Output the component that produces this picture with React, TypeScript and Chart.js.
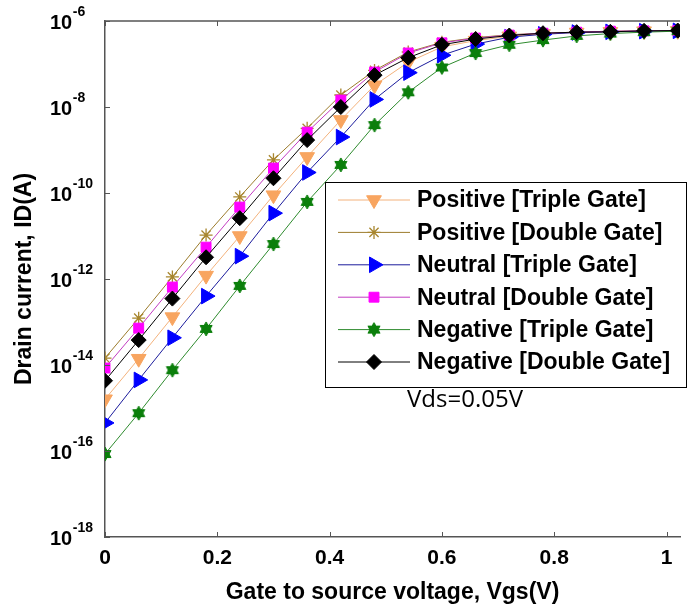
import React, { useEffect, useRef } from 'react';
import { Chart, registerables } from 'chart.js';
import { drawPoint } from 'chart.js/helpers';

Chart.register(...registerables);

// ---------- data ----------
const vgs = [0, 0.06, 0.12, 0.18, 0.24, 0.3, 0.36, 0.42, 0.48, 0.54, 0.6, 0.66, 0.72, 0.78, 0.84, 0.9, 0.96, 1.02];

const positiveTriple = [1.6e-15, 1.4e-14, 1.3e-13, 1.2e-12, 1.0e-11, 8.9e-11, 6.9e-10, 5.0e-9, 3.2e-8, 1.1e-7, 2.5e-7, 3.5e-7, 4.4e-7, 5.0e-7, 5.4e-7, 5.6e-7, 5.8e-7, 5.9e-7];
const positiveDouble = [1.45e-14, 1.23e-13, 1.12e-12, 1.05e-11, 8.1e-11, 5.9e-10, 3.2e-9, 1.9e-8, 7.1e-8, 1.9e-7, 3.2e-7, 4.1e-7, 4.8e-7, 5.2e-7, 5.5e-7, 5.8e-7, 5.9e-7, 6.0e-7];
const neutralTriple = [4.5e-16, 4.5e-15, 4.3e-14, 4.0e-13, 3.4e-12, 3.4e-11, 3.0e-10, 2.0e-9, 1.5e-8, 6.3e-8, 1.6e-7, 2.9e-7, 4.2e-7, 4.9e-7, 5.4e-7, 5.6e-7, 5.8e-7, 5.9e-7];
const neutralDouble = [8.5e-15, 7.2e-14, 6.5e-13, 5.5e-12, 4.7e-11, 3.8e-10, 2.6e-9, 1.45e-8, 6.5e-8, 1.8e-7, 3.1e-7, 4.0e-7, 4.7e-7, 5.2e-7, 5.5e-7, 5.8e-7, 5.9e-7, 6.0e-7];
const negativeTriple = [8.5e-17, 7.6e-16, 7.6e-15, 6.9e-14, 6.9e-13, 6.5e-12, 6.2e-11, 4.5e-10, 3.8e-9, 2.2e-8, 8.3e-8, 1.8e-7, 2.8e-7, 3.6e-7, 4.5e-7, 5.1e-7, 5.5e-7, 5.8e-7];
const negativeDouble = [4.3e-15, 3.8e-14, 3.5e-13, 3.2e-12, 2.6e-11, 2.2e-10, 1.7e-9, 1.0e-8, 5.5e-8, 1.4e-7, 2.8e-7, 3.8e-7, 4.6e-7, 5.2e-7, 5.5e-7, 5.6e-7, 5.9e-7, 6.0e-7];

const seriesLabels = [
  'Positive [Triple Gate]',
  'Positive [Double Gate]',
  'Neutral [Triple Gate]',
  'Neutral [Double Gate]',
  'Negative [Triple Gate]',
  'Negative [Double Gate]',
];

const xTickValues = [0, 0.2, 0.4, 0.6, 0.8, 1];
const xTickLabels = ['0', '0.2', '0.4', '0.6', '0.8', '1'];
const yTickExponents = [-6, -8, -10, -12, -14, -16, -18];

const xTitle = 'Gate to source voltage, Vgs(V)';
const yTitle = 'Drain current, ID(A)';
const annotationText = 'Vds=0.05V';

// ---------- styling ----------
const FONT = "'Liberation Sans', Arial, sans-serif";
const AXIS_COLOR = '#555555';

function makeHexagram(color: string, r: number): HTMLCanvasElement {
  const size = Math.ceil(r * 2 + 2);
  const c = document.createElement('canvas');
  c.width = size;
  c.height = size;
  const ctx = c.getContext('2d')!;
  const cx = size / 2;
  const cy = size / 2;
  ctx.fillStyle = color;
  ctx.strokeStyle = color;
  ctx.lineWidth = 1;
  const tri = (startDeg: number) => {
    ctx.beginPath();
    for (let k = 0; k < 3; k++) {
      const a = ((startDeg + k * 120) * Math.PI) / 180;
      const px = cx + r * Math.cos(a);
      const py = cy + r * Math.sin(a);
      if (k === 0) ctx.moveTo(px, py);
      else ctx.lineTo(px, py);
    }
    ctx.closePath();
    ctx.fill();
    ctx.stroke();
  };
  tri(-90);
  tri(90);
  return c;
}

export default function App() {
  const canvasRef = useRef<HTMLCanvasElement | null>(null);

  useEffect(() => {
    const canvas = canvasRef.current;
    if (!canvas) return;

    const hexagram = makeHexagram('#0b7f0b', 7);

    const styles = [
      { line: '#F3B27C', fill: '#F8A560', pointStyle: 'triangle' as any, rotation: 180, radius: 8.5, bw: 1 },
      { line: '#9C7C2C', fill: 'rgba(0,0,0,0)', border: '#A8862E', pointStyle: 'star' as any, rotation: 0, radius: 6.5, bw: 1.3 },
      { line: '#1B1B9C', fill: '#0000FF', pointStyle: 'triangle' as any, rotation: 90, radius: 9, bw: 1 },
      { line: '#C23CC2', fill: '#FF00FF', pointStyle: 'rect' as any, rotation: 0, radius: 7, bw: 1 },
      { line: '#2E8B2E', fill: '#0b7f0b', pointStyle: hexagram as any, rotation: 0, radius: 7, bw: 1 },
      { line: '#000000', fill: '#000000', pointStyle: 'rectRot' as any, rotation: 0, radius: 7.5, bw: 1 },
    ];
    const values = [positiveTriple, positiveDouble, neutralTriple, neutralDouble, negativeTriple, negativeDouble];

    const datasets = values.map((arr, i) => {
      const s: any = styles[i];
      return {
        label: seriesLabels[i],
        data: vgs.map((x, j) => ({ x, y: arr[j] })),
        borderColor: s.line,
        backgroundColor: s.fill,
        borderWidth: 1,
        pointStyle: s.pointStyle,
        pointRotation: s.rotation,
        pointRadius: s.radius,
        pointBackgroundColor: s.fill,
        pointBorderColor: s.border || s.fill,
        pointBorderWidth: s.bw,
        order: values.length - 1 - i,
        tension: 0,
        fill: false,
      };
    });

    const decorPlugin = {
      id: 'decor',
      afterDraw(chart: any) {
        const ctx: CanvasRenderingContext2D = chart.ctx;
        const area = chart.chartArea;
        const xs = chart.scales.x;
        const ys = chart.scales.y;
        ctx.save();

        // top frame line
        ctx.strokeStyle = AXIS_COLOR;
        ctx.lineWidth = 1.5;
        ctx.beginPath();
        ctx.moveTo(area.left, area.top);
        ctx.lineTo(area.right, area.top);
        ctx.stroke();

        // inward tick marks
        ctx.lineWidth = 1;
        ctx.beginPath();
        xTickValues.forEach((v) => {
          const px = Math.round(xs.getPixelForValue(v)) + 0.5;
          ctx.moveTo(px, area.bottom);
          ctx.lineTo(px, area.bottom - 5);
          ctx.moveTo(px, area.top);
          ctx.lineTo(px, area.top + 5);
        });
        yTickExponents.forEach((e) => {
          const py = Math.round(ys.getPixelForValue(Math.pow(10, e))) + 0.5;
          ctx.moveTo(area.left, py);
          ctx.lineTo(area.left + 5, py);
        });
        ctx.stroke();

        // y tick labels 10^e
        ctx.fillStyle = '#000';
        ctx.textAlign = 'left';
        ctx.textBaseline = 'alphabetic';
        yTickExponents.forEach((e) => {
          const py = ys.getPixelForValue(Math.pow(10, e));
          ctx.font = `bold 20px ${FONT}`;
          ctx.fillText('10', 50, py + 8);
          const w = ctx.measureText('10').width;
          ctx.font = `bold 14px ${FONT}`;
          ctx.fillText(String(e), 50 + w + 0.5, py - 5);
        });

        // legend box
        const bx = 325.5, by = 182.5, bw = 361, bh = 205;
        ctx.fillStyle = '#ffffff';
        ctx.fillRect(bx, by, bw, bh);
        ctx.strokeStyle = '#000';
        ctx.lineWidth = 1;
        ctx.strokeRect(bx, by, bw, bh);
        chart.data.datasets.forEach((ds: any, i: number) => {
          const s: any = styles[i];
          const ry = 200 + i * 32.4;
          ctx.strokeStyle = s.line;
          ctx.lineWidth = 1;
          ctx.beginPath();
          ctx.moveTo(338, ry);
          ctx.lineTo(410, ry);
          ctx.stroke();
          ctx.fillStyle = s.fill;
          ctx.strokeStyle = s.border || s.fill;
          ctx.lineWidth = s.bw;
          drawPoint(ctx, { pointStyle: s.pointStyle, rotation: s.rotation, radius: s.radius, borderWidth: s.bw } as any, 374, ry);
          ctx.fillStyle = '#000';
          ctx.font = `bold 23px ${FONT}`;
          ctx.textBaseline = 'middle';
          ctx.textAlign = 'left';
          ctx.fillText(ds.label, 417, ry + 1);
        });

        // annotation
        ctx.fillStyle = '#000';
        ctx.font = `24px 'Open Sans', 'Liberation Sans', sans-serif`;
        ctx.textBaseline = 'alphabetic';
        ctx.textAlign = 'left';
        ctx.fillText(annotationText, 407, 407);

        ctx.restore();
      },
    };

    const chart = new Chart(canvas, {
      type: 'line',
      data: { datasets: datasets as any },
      options: {
        responsive: false,
        maintainAspectRatio: false,
        animation: false,
        layout: { padding: { top: 21, right: 0, left: 0, bottom: 0 } },
        plugins: {
          legend: { display: false },
          tooltip: { enabled: false },
        },
        scales: {
          x: {
            type: 'linear',
            position: 'bottom',
            min: 0,
            max: 1.024,
            grid: { display: false, drawTicks: false },
            border: { display: true, color: AXIS_COLOR, width: 1.5 },
            afterBuildTicks: (scale: any) => {
              scale.ticks = xTickValues.map((v) => ({ value: v }));
            },
            afterFit: (scale: any) => {
              scale.height = 72;
            },
            ticks: {
              autoSkip: false,
              maxRotation: 0,
              padding: 9,
              color: '#000',
              font: { family: FONT, size: 21, weight: 'bold' },
              callback: (value: any) => {
                const idx = xTickValues.indexOf(Number(value));
                return idx >= 0 ? xTickLabels[idx] : '';
              },
            },
            title: {
              display: true,
              text: xTitle,
              color: '#000',
              font: { family: FONT, size: 23, weight: 'bold' },
              padding: { top: 0, bottom: 3 },
            },
          },
          y: {
            type: 'logarithmic',
            position: 'left',
            min: 1e-18,
            max: 1e-6,
            grid: { display: false, drawTicks: false },
            border: { display: true, color: AXIS_COLOR, width: 1.5 },
            afterBuildTicks: (scale: any) => {
              scale.ticks = yTickExponents.map((e) => ({ value: Math.pow(10, e) }));
            },
            afterFit: (scale: any) => {
              scale.width = 105;
            },
            ticks: { display: false },
            title: {
              display: true,
              text: yTitle,
              color: '#000',
              font: { family: FONT, size: 23, weight: 'bold' },
              padding: { top: 11, bottom: 0 },
            },
          },
        },
      } as any,
      plugins: [decorPlugin],
    });

    return () => {
      chart.destroy();
    };
  }, []);

  return (
    <div style={{ position: 'absolute', left: 0, top: 0, width: 690, height: 609, background: '#fff' }}>
      <canvas ref={canvasRef} width={690} height={609} style={{ display: 'block', width: 690, height: 609 }} />
    </div>
  );
}
